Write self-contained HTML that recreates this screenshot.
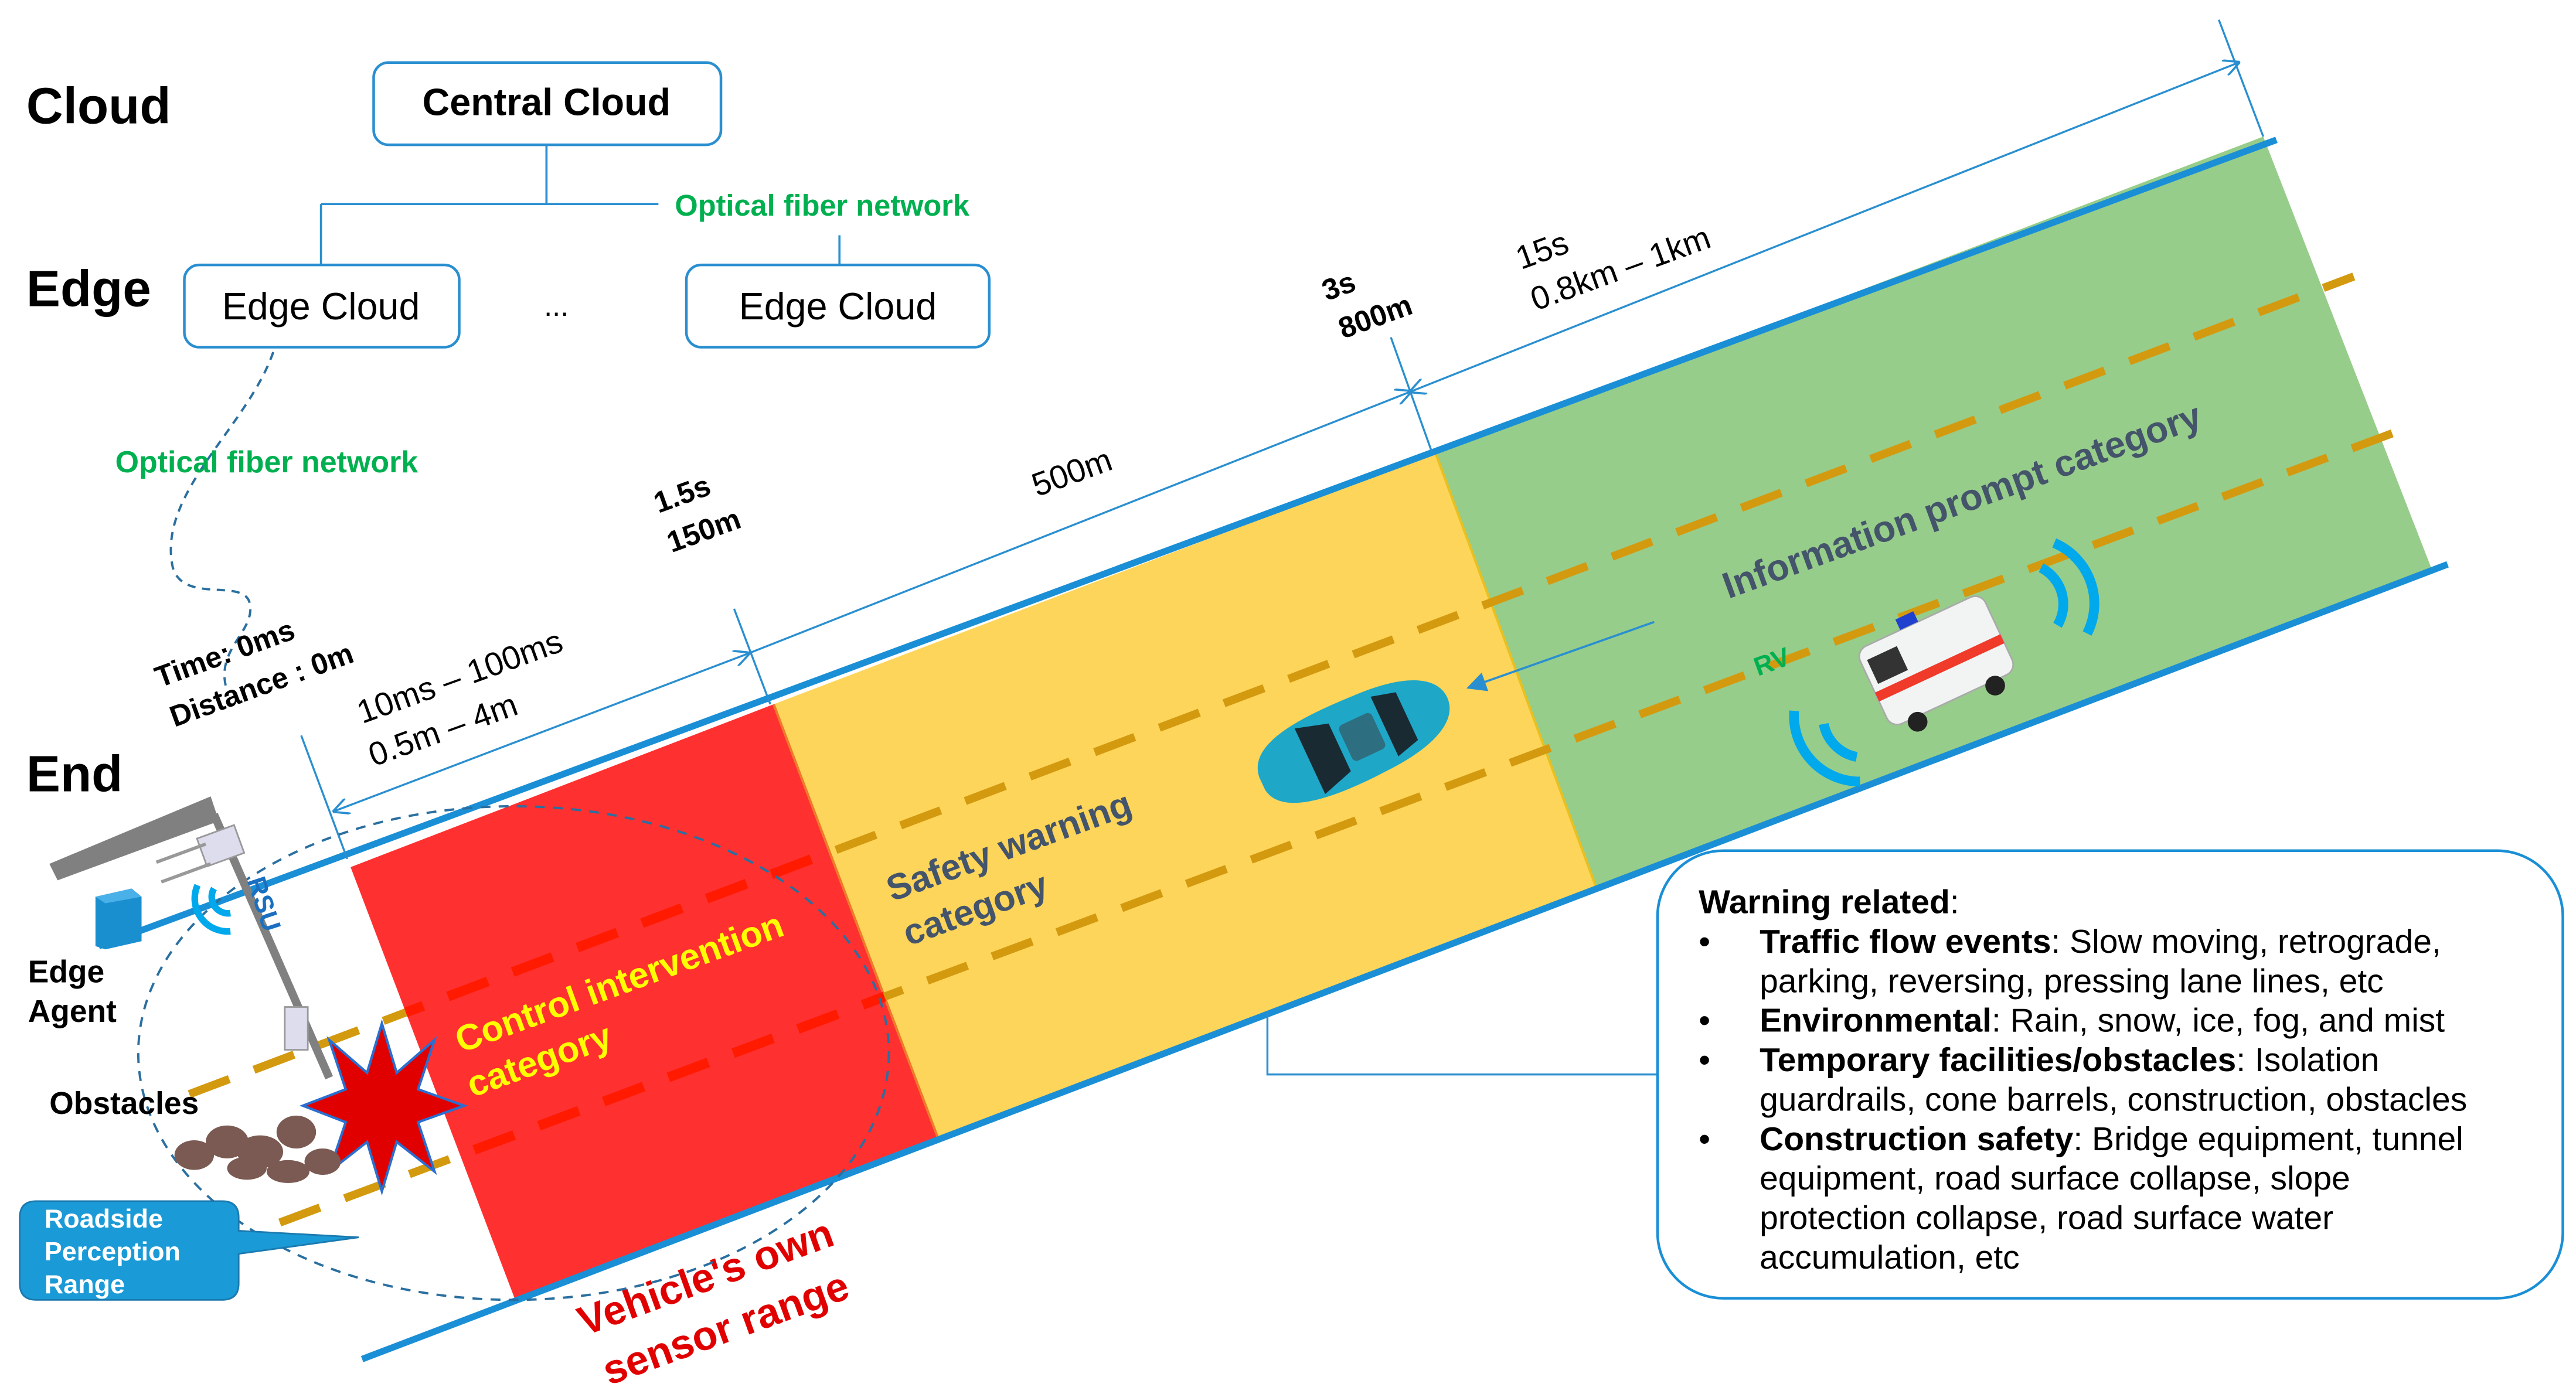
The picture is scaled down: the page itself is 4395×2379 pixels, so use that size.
<!DOCTYPE html>
<html><head><meta charset="utf-8"><style>
html,body{margin:0;padding:0;background:#fff}
svg{display:block}
text{font-family:"Liberation Sans",sans-serif}
</style></head><body>
<svg width="4395" height="2379" viewBox="0 0 1565 847.2" preserveAspectRatio="none" xmlns="http://www.w3.org/2000/svg">
<defs>
<marker id="ar" viewBox="0 0 10 10" refX="9" refY="5" markerWidth="10" markerHeight="10" orient="auto-start-reverse" markerUnits="userSpaceOnUse"><path d="M0,0 L10,5 L0,10" fill="none" stroke="#2a8fd0" stroke-width="1.3"/></marker>
<marker id="af" viewBox="0 0 10 10" refX="9" refY="5" markerWidth="12" markerHeight="12" orient="auto" markerUnits="userSpaceOnUse"><path d="M0,0 L10,5 L0,10 Z" fill="#2a8fd0"/></marker>
<clipPath id="redclip"><polygon points="213,527 470,428 570,692 313,790"/></clipPath>
</defs>

<text x="16" y="75" font-size="31" font-weight="bold">Cloud</text>
<text x="16" y="186" font-size="31" font-weight="bold">Edge</text>
<text x="16" y="481" font-size="31" font-weight="bold">End</text>

<rect x="227" y="38" width="211" height="50" rx="9" fill="#fff" stroke="#2a8fd0" stroke-width="1.6"/>
<text x="332" y="70" font-size="23" font-weight="bold" text-anchor="middle">Central Cloud</text>
<path d="M332,88 V124 M195,124 H400 M195,124 V161 M510,143 V161" stroke="#2a8fd0" stroke-width="1.3" fill="none"/>
<text x="410" y="131" font-size="18" font-weight="bold" fill="#00b050">Optical fiber network</text>
<rect x="112" y="161" width="167" height="50" rx="9" fill="#fff" stroke="#2a8fd0" stroke-width="1.6"/>
<text x="195" y="194" font-size="23" text-anchor="middle">Edge Cloud</text>
<rect x="417" y="161" width="184" height="50" rx="9" fill="#fff" stroke="#2a8fd0" stroke-width="1.6"/>
<text x="509" y="194" font-size="23" text-anchor="middle">Edge Cloud</text>
<text x="338" y="192" font-size="18" text-anchor="middle">...</text>
<path d="M166,214 C150,260 95,300 105,345 C112,368 150,350 152,368 C154,385 130,395 138,420" fill="none" stroke="#2a6fa0" stroke-width="1.4" stroke-dasharray="5,4"/>
<text x="70" y="287" font-size="18.5" font-weight="bold" fill="#00b050">Optical fiber network</text>

<polygon points="213,527 470,428 570,692 313,790" fill="#ff3030"/>
<polygon points="470,428 872,275 970,540 570,692" fill="#fdd55a"/>
<polygon points="872,275 1375,83 1477,345 970,540" fill="#97cd8a"/>
<line x1="470" y1="428" x2="570" y2="692" stroke="#f07a2a" stroke-width="1.5"/>
<line x1="872" y1="275" x2="970" y2="540" stroke="#e8c020" stroke-width="1.5"/>

<line x1="115" y1="665" x2="1430" y2="168" stroke="#d39a10" stroke-width="5" stroke-dasharray="26,16"/>
<line x1="170" y1="743" x2="1457" y2="262" stroke="#d39a10" stroke-width="5" stroke-dasharray="26,16"/>
<g clip-path="url(#redclip)">
<line x1="115" y1="665" x2="1430" y2="168" stroke="#ff1a00" stroke-width="6" stroke-dasharray="26,16"/>
<line x1="170" y1="743" x2="1457" y2="262" stroke="#ff1a00" stroke-width="6" stroke-dasharray="26,16"/>
</g>

<line x1="60" y1="575" x2="1383" y2="85" stroke="#1a8fd6" stroke-width="4"/>
<line x1="220" y1="826" x2="1487" y2="343" stroke="#1a8fd6" stroke-width="4"/>

<g stroke="#2a8fd0" stroke-width="1.2" fill="none">
<line x1="183" y1="447" x2="211" y2="522"/>
<line x1="446" y1="370" x2="468" y2="428"/>
<line x1="845" y1="205" x2="870" y2="275"/>
<line x1="1348" y1="12" x2="1375" y2="83"/>
<line x1="203" y1="493" x2="455" y2="397" marker-start="url(#ar)" marker-end="url(#ar)"/>
<line x1="455" y1="397" x2="857" y2="238" marker-end="url(#ar)"/>
<line x1="857" y1="238" x2="1360" y2="38" marker-start="url(#ar)" marker-end="url(#ar)"/>
</g>
<g font-size="18" font-weight="bold">
<text transform="translate(97,418) rotate(-20)">Time: 0ms</text>
<text transform="translate(106,442) rotate(-20)">Distance  : 0m</text>
<text transform="translate(400,312) rotate(-20)">1.5s</text>
<text transform="translate(408,336) rotate(-20)">150m</text>
<text transform="translate(806,183) rotate(-20)">3s</text>
<text transform="translate(816,206) rotate(-20)">800m</text>
</g>
<g font-size="20">
<text transform="translate(220,440) rotate(-20)">10ms – 100ms</text>
<text transform="translate(227,466) rotate(-20)">0.5m – 4m</text>
<text transform="translate(630,302) rotate(-20)">500m</text>
<text transform="translate(924,164) rotate(-20)">15s</text>
<text transform="translate(933,189) rotate(-20)">0.8km – 1km</text>
</g>

<g font-size="22" font-weight="bold">
<text transform="translate(280,640) rotate(-20)" fill="#ffff00">Control intervention</text>
<text transform="translate(287,667) rotate(-20)" fill="#ffff00">category</text>
<text transform="translate(542,548) rotate(-20)" fill="#44546a">Safety warning</text>
<text transform="translate(552,575) rotate(-20)" fill="#44546a">category</text>
<text transform="translate(1050,364) rotate(-20)" fill="#44546a" font-size="22.5">Information prompt category</text>
<text transform="translate(355,812) rotate(-20)" fill="#e00000" font-size="25">Vehicle's own</text>
<text transform="translate(370,842) rotate(-20)" fill="#e00000" font-size="25">sensor range</text>
</g>

<ellipse cx="312" cy="640" rx="228" ry="150" fill="none" stroke="#2a6fa0" stroke-width="1.4" stroke-dasharray="6,5"/>

<g transform="translate(823,450) rotate(-25)">
<path d="M-62,-4 C-60,-24 -30,-27 10,-25 C45,-24 62,-14 62,0 C62,14 45,24 10,25 C-30,27 -60,22 -62,4 Z" fill="#1ea7c7"/>
<path d="M-30,-22 L-10,-16 L-10,16 L-30,22 Z" fill="#1a2a33"/>
<path d="M20,-20 L35,-16 L35,16 L20,20 Z" fill="#1a2a33"/>
<rect x="-6" y="-12" width="22" height="24" rx="3" fill="#2d6f80"/>
</g>
<line x1="1005" y1="378" x2="892" y2="418" stroke="#2a8fd0" stroke-width="1.3" marker-end="url(#af)"/>
<text transform="translate(1068,411) rotate(-20)" font-size="16" font-weight="bold" fill="#00b050">RV</text>

<g transform="translate(1178,405) rotate(-25)">
<rect x="-42" y="-30" width="84" height="52" rx="7" fill="#f2f4f4" stroke="#aaa" stroke-width="1"/>
<rect x="-42" y="-2" width="84" height="6" fill="#f03a2a"/>
<rect x="-38" y="-22" width="20" height="16" fill="#333"/>
<rect x="-12" y="-37" width="12" height="7" fill="#2040d0"/>
<circle cx="-26" cy="25" r="6" fill="#222"/><circle cx="26" cy="25" r="6" fill="#222"/>
</g>
<g fill="none" stroke="#00a8ec" stroke-width="6">
<path d="M1240,345 A25,25 0 0 1 1250,380"/>
<path d="M1248,330 A40,40 0 0 1 1268,385"/>
<path d="M1128,460 A25,25 0 0 1 1108,440"/>
<path d="M1130,475 A40,40 0 0 1 1090,432"/>
</g>

<polygon points="30,525 128,484 133,499 35,535" fill="#808080"/>
<line x1="130" y1="495" x2="200" y2="655" stroke="#808080" stroke-width="5"/>
<rect x="122" y="505" width="24" height="18" fill="#dde" stroke="#999" transform="rotate(-20 134 514)"/>
<line x1="95" y1="524" x2="125" y2="513" stroke="#999" stroke-width="2"/>
<line x1="98" y1="536" x2="128" y2="525" stroke="#999" stroke-width="2"/>
<rect x="173" y="612" width="14" height="26" fill="#dde" stroke="#999"/>
<polygon points="58,545 80,540 86,545 86,572 64,577 58,575" fill="#1a8fd0"/>
<polygon points="58,545 80,540 86,545 64,549" fill="#4ab0e8"/>
<g fill="none" stroke="#00a8ec" stroke-width="4">
<path d="M130,540 A10,10 0 0 0 140,555"/>
<path d="M120,538 A20,20 0 0 0 140,566"/>
</g>
<text transform="translate(150,535) rotate(72)" font-size="16" font-weight="bold" fill="#1a6fc0">RSU</text>
<text x="17" y="597" font-size="19" font-weight="bold">Edge</text>
<text x="17" y="621" font-size="19" font-weight="bold">Agent</text>
<text x="30" y="677" font-size="19" font-weight="bold">Obstacles</text>
<polygon points="232,622 241,652 264,632 254,662 282,672 254,682 264,712 241,694 232,724 223,694 200,712 210,682 184,672 210,662 200,632 223,652" fill="#e00000" stroke="#2a6fd0" stroke-width="1.5"/>
<g fill="#7a5a52">
<ellipse cx="118" cy="702" rx="12" ry="9"/><ellipse cx="138" cy="694" rx="13" ry="10"/><ellipse cx="158" cy="700" rx="14" ry="10"/>
<ellipse cx="180" cy="688" rx="12" ry="10"/><ellipse cx="196" cy="706" rx="11" ry="8"/><ellipse cx="150" cy="710" rx="12" ry="7"/><ellipse cx="175" cy="712" rx="13" ry="7"/>
</g>
<path d="M22,730 H135 Q145,730 145,740 V748 L218,752 L145,762 V780 Q145,790 135,790 H22 Q12,790 12,780 V740 Q12,730 22,730 Z" fill="#1a9ad6" stroke="#1a7ab0" stroke-width="1"/>
<g font-size="16" font-weight="bold" fill="#fff">
<text x="27" y="746">Roadside</text>
<text x="27" y="766">Perception</text>
<text x="27" y="786">Range</text>
</g>

<path d="M770,615 V653 H1007" fill="none" stroke="#2a8fd0" stroke-width="1.2"/>
<rect x="1007" y="517" width="550" height="272" rx="40" fill="#fff" stroke="#1a8fd6" stroke-width="1.6"/>
<g font-size="20.3">
<text x="1032" y="555"><tspan font-weight="bold">Warning related</tspan>:</text>
<text x="1032" y="579">•</text><text x="1069" y="579"><tspan font-weight="bold">Traffic flow events</tspan>:  Slow moving, retrograde,</text>
<text x="1069" y="603">parking, reversing, pressing lane lines, etc</text>
<text x="1032" y="627">•</text><text x="1069" y="627"><tspan font-weight="bold">Environmental</tspan>:  Rain, snow, ice, fog, and mist</text>
<text x="1032" y="651">•</text><text x="1069" y="651"><tspan font-weight="bold">Temporary facilities/obstacles</tspan>:  Isolation</text>
<text x="1069" y="675">guardrails, cone barrels, construction, obstacles</text>
<text x="1032" y="699">•</text><text x="1069" y="699"><tspan font-weight="bold">Construction safety</tspan>:  Bridge equipment, tunnel</text>
<text x="1069" y="723">equipment, road surface collapse, slope</text>
<text x="1069" y="747">protection collapse, road surface water</text>
<text x="1069" y="771">accumulation, etc</text>
</g>
</svg>
</body></html>
